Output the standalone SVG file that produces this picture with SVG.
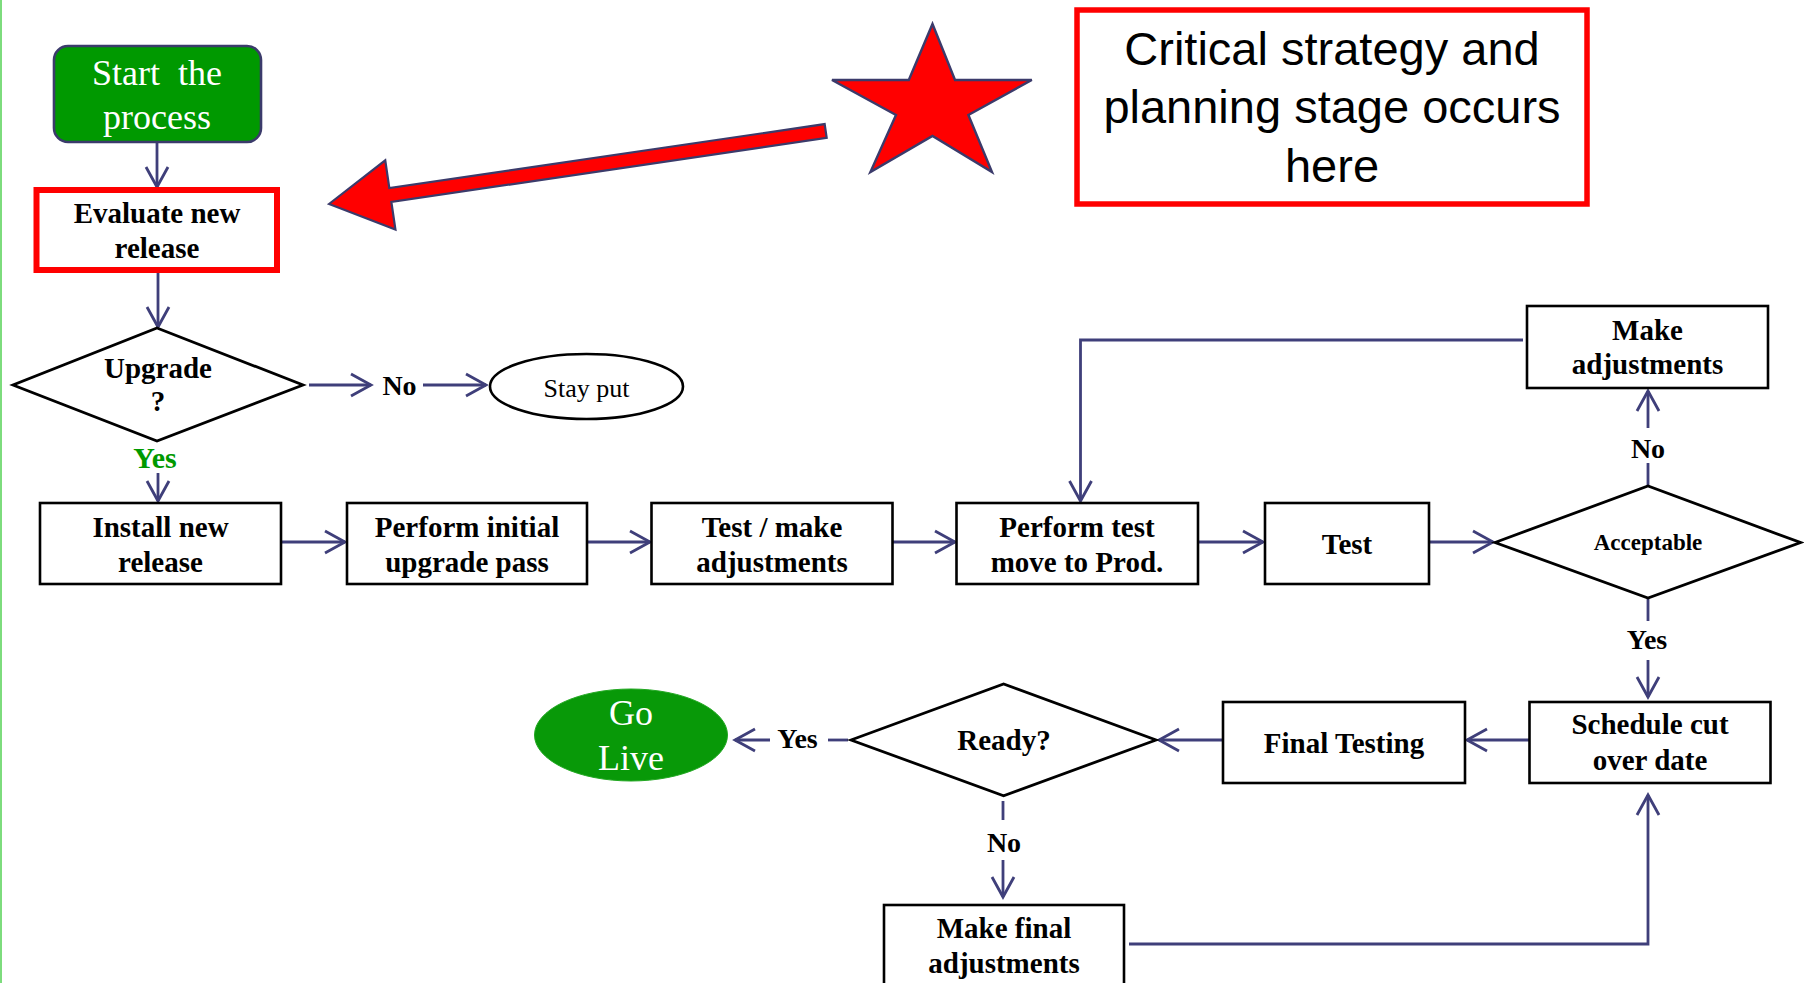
<svg xmlns="http://www.w3.org/2000/svg" width="1804" height="983" viewBox="0 0 1804 983">
<defs>
<marker id="ah" markerUnits="userSpaceOnUse" markerWidth="30" markerHeight="30" viewBox="-25 -15 30 30" refX="0" refY="0" orient="auto">
<path d="M -20 -11 L 0 0 L -20 11" fill="none" stroke="#3f3f7a" stroke-width="2.8"/>
</marker>
<style>
.box{fill:#fff;stroke:#000;stroke-width:2.6}
.t{font-family:"Liberation Serif","Times New Roman",serif;font-weight:bold;font-size:29px;fill:#000;text-anchor:middle}
.lbl{font-family:"Liberation Serif","Times New Roman",serif;font-weight:bold;font-size:28px;fill:#000;text-anchor:middle}
.w{font-family:"Liberation Serif","Times New Roman",serif;font-size:36px;fill:#fff;text-anchor:middle}
.c{fill:none;stroke:#3f3f7a;stroke-width:2.8}
.ca{fill:none;stroke:#3f3f7a;stroke-width:2.8;marker-end:url(#ah)}
</style>
</defs>
<rect width="1804" height="983" fill="#fff"/>
<line x1="1" y1="0" x2="1" y2="983" stroke="#7ddc7d" stroke-width="2"/>

<g id="connectors">
<line class="ca" x1="157" y1="143" x2="157" y2="187"/>
<line class="ca" x1="158" y1="273" x2="158" y2="327"/>
<line class="ca" x1="309" y1="385" x2="371" y2="385"/>
<line class="ca" x1="423" y1="385" x2="486" y2="385"/>
<line class="ca" x1="158" y1="473" x2="158" y2="501"/>
<line class="ca" x1="281" y1="542" x2="345" y2="542"/>
<line class="ca" x1="587" y1="542" x2="650" y2="542"/>
<line class="ca" x1="893" y1="542" x2="955" y2="542"/>
<line class="ca" x1="1198" y1="542" x2="1263" y2="542"/>
<line class="ca" x1="1429" y1="542" x2="1493" y2="542"/>
<line class="c" x1="1648" y1="486" x2="1648" y2="463"/>
<line class="ca" x1="1648" y1="428" x2="1648" y2="391"/>
<polyline class="ca" points="1523,340 1080.5,340 1080.5,501"/>
<line class="c" x1="1648" y1="599" x2="1648" y2="621"/>
<line class="ca" x1="1648" y1="660" x2="1648" y2="697"/>
<line class="ca" x1="1529" y1="740" x2="1467" y2="740"/>
<line class="ca" x1="1223" y1="740" x2="1159" y2="740"/>
<line class="c" x1="848" y1="740" x2="828" y2="740"/>
<line class="ca" x1="770" y1="740" x2="735" y2="740"/>
<line class="c" x1="1003" y1="801" x2="1003" y2="820"/>
<line class="ca" x1="1003" y1="860" x2="1003" y2="897"/>
<polyline class="ca" points="1129,944 1648,944 1648,795"/>
</g>

<g id="labels">
<text class="lbl" x="399.5" y="395">No</text>
<text class="lbl" x="155" y="468" style="fill:#009900;font-size:30px">Yes</text>
<text class="lbl" x="1648" y="458">No</text>
<text class="lbl" x="1647" y="649">Yes</text>
<text class="lbl" x="797.5" y="748">Yes</text>
<text class="lbl" x="1004" y="852">No</text>
</g>

<g id="start">
<rect x="54" y="46" width="207" height="96" rx="14" fill="#009900" stroke="#3b3b6b" stroke-width="2.6"/>
<text class="w" x="157" y="85" xml:space="preserve">Start  the</text>
<text class="w" x="157" y="129">process</text>
</g>

<g id="evaluate">
<rect x="36.5" y="190" width="240.5" height="80" fill="#fff" stroke="#ff0000" stroke-width="6"/>
<text class="t" x="157" y="223">Evaluate new</text>
<text class="t" x="157" y="258">release</text>
</g>

<g id="upgrade">
<polygon points="157,328 303,385 157,441 13,385" fill="#fff" stroke="#000" stroke-width="2.8"/>
<text class="t" x="158" y="378">Upgrade</text>
<text class="t" x="158" y="411">?</text>
</g>

<g id="stayput">
<ellipse cx="586.5" cy="386.5" rx="96.5" ry="32.5" fill="#fff" stroke="#000" stroke-width="2.6"/>
<text x="586.5" y="397" style="font-family:'Liberation Serif','Times New Roman',serif;font-size:26px;text-anchor:middle">Stay put</text>
</g>

<g id="redarrow">
<polygon transform="translate(329,204) rotate(-8.36)" points="0,0 62,-35 62,-7 502,-7 502,7 62,7 62,35" fill="#ff0000" stroke="#3b3b6b" stroke-width="2.2" stroke-linejoin="miter"/>
</g>

<g id="star">
<polygon points="932.5,24 955,80 1031.8,80 968.4,115 992,172 932.5,136 870.4,172 896,115 832,80 908.8,80" fill="#ff0000" stroke="#3b3b6b" stroke-width="2.4"/>
</g>

<g id="critical">
<rect x="1077" y="10" width="510" height="194" fill="#fff" stroke="#ff0000" stroke-width="5.5"/>
<text x="1332" y="65" style="font-family:'Liberation Sans',Arial,sans-serif;font-size:47px;text-anchor:middle">Critical strategy and</text>
<text x="1332" y="123" style="font-family:'Liberation Sans',Arial,sans-serif;font-size:47px;text-anchor:middle">planning stage occurs</text>
<text x="1332" y="182" style="font-family:'Liberation Sans',Arial,sans-serif;font-size:47px;text-anchor:middle">here</text>
</g>

<g id="install">
<rect class="box" x="40" y="503" width="241" height="81"/>
<text class="t" x="160.5" y="537">Install new</text>
<text class="t" x="160.5" y="572">release</text>
</g>

<g id="performinitial">
<rect class="box" x="347" y="503" width="240" height="81"/>
<text class="t" x="467" y="537">Perform initial</text>
<text class="t" x="467" y="572">upgrade pass</text>
</g>

<g id="testmake">
<rect class="box" x="651.5" y="503" width="241" height="81"/>
<text class="t" x="772" y="537">Test / make</text>
<text class="t" x="772" y="572">adjustments</text>
</g>

<g id="performtest">
<rect class="box" x="956.5" y="503" width="241.5" height="81"/>
<text class="t" x="1077" y="537">Perform test</text>
<text class="t" x="1077" y="572">move to Prod.</text>
</g>

<g id="test">
<rect class="box" x="1265" y="503" width="164" height="81"/>
<text class="t" x="1347" y="554">Test</text>
</g>

<g id="acceptable">
<polygon points="1495,542.5 1648,486 1800.5,542.5 1648,598" fill="#fff" stroke="#000" stroke-width="2.8"/>
<text class="t" x="1648" y="550" style="font-size:23px">Acceptable</text>
</g>

<g id="makeadjustments">
<rect class="box" x="1527" y="306" width="241" height="82"/>
<text class="t" x="1647.5" y="340">Make</text>
<text class="t" x="1647.5" y="374">adjustments</text>
</g>

<g id="schedule">
<rect class="box" x="1529.5" y="702" width="241" height="81"/>
<text class="t" x="1650" y="734">Schedule cut</text>
<text class="t" x="1650" y="770">over date</text>
</g>

<g id="finaltesting">
<rect class="box" x="1223" y="702" width="242" height="81"/>
<text class="t" x="1344" y="753">Final Testing</text>
</g>

<g id="ready">
<polygon points="851,740 1003.6,684 1156,740 1003.6,795.7" fill="#fff" stroke="#000" stroke-width="2.8"/>
<text class="t" x="1004" y="750">Ready?</text>
</g>

<g id="golive">
<ellipse cx="631" cy="735" rx="96.5" ry="46" fill="#089908" stroke="#22a822" stroke-width="1"/>
<text class="w" x="631" y="725">Go</text>
<text class="w" x="631" y="770">Live</text>
</g>

<g id="makefinal">
<rect class="box" x="884" y="905" width="240" height="90"/>
<text class="t" x="1004" y="938">Make final</text>
<text class="t" x="1004" y="973">adjustments</text>
</g>
</svg>
